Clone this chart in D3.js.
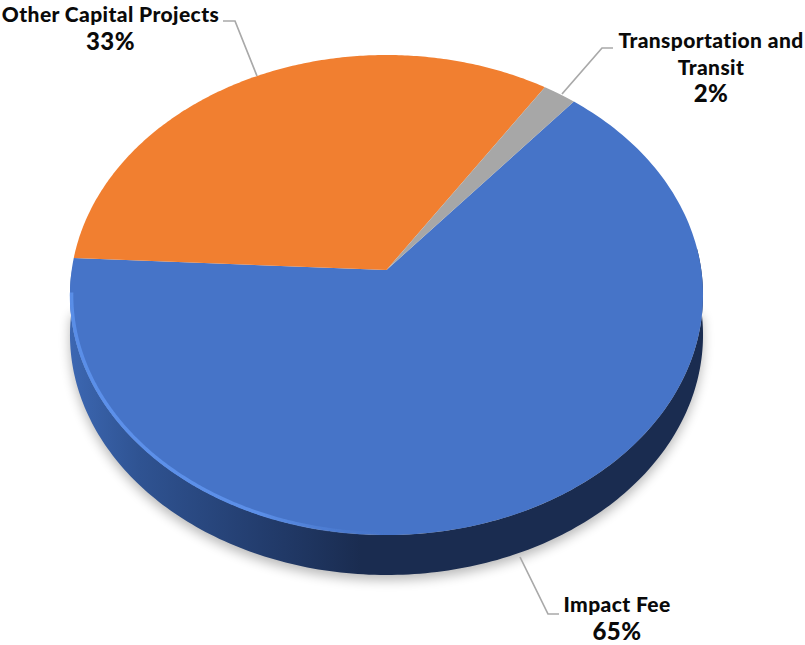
<!DOCTYPE html>
<html><head><meta charset="utf-8">
<script src="https://cdn.jsdelivr.net/npm/d3@7"></script>
<style>html,body{margin:0;background:#fff}svg{display:block}
text{font-family:Lato,sans-serif;font-weight:900;fill:#0a0a0a}</style></head>
<body><svg id="c" width="805" height="645"></svg>
<script>
const categories = ["Impact Fee","Other Capital Projects","Transportation and Transit"];
const values = [64.7,33.4,1.9];
const colors = ["#4674c8","#f17f30","#a7a7a7"];
const labelLines = [["Impact Fee"],["Other Capital Projects"],["Transportation and","Transit"]];
const labelPos = [[617,612],[110.5,22],[711,48]];
const lineGaps = [28,28,26.5];
const leaderLines = [[[520,557],[548,614],[559,614]],[[257,76],[235,21],[223,21]],[[562,94],[602,48],[613,48]]];

const cx=386.5,cy=270,a=314.8,s=237.4,k=-0.1042,depth=40;
const startDeg=40;
const project=(t)=>{const u=Math.sin(t),v=-Math.cos(t),d=1+k*v;return [cx+a*u/d,cy+s*v/d];};
const pie=d3.pie().sort(null).startAngle(startDeg*Math.PI/180).endAngle((startDeg+360)*Math.PI/180)(values);
const svg=d3.select("#c"),defs=svg.append("defs");
const line=d3.line();
const arcPts=(t0,t1)=>d3.range(0,201).map(i=>project(t0+(t1-t0)*i/200));

const blur=defs.append("filter").attr("id","sh").attr("x","-10%").attr("y","-10%").attr("width","120%").attr("height","125%");
blur.append("feGaussianBlur").attr("stdDeviation",6);
const soft=defs.append("filter").attr("id","soft").attr("x","-5%").attr("y","-5%").attr("width","110%").attr("height","110%");
soft.append("feGaussianBlur").attr("stdDeviation",0.6);
const g1=defs.append("linearGradient").attr("id","side").attr("gradientUnits","userSpaceOnUse")
 .attr("x1",70).attr("x2",703).attr("y1",0).attr("y2",0);
[[0,"#3c67b2"],[0.11,"#2f5392"],[0.3,"#233d6e"],[0.46,"#1a2c50"],[1,"#1a2c50"]]
 .forEach(([o,c])=>g1.append("stop").attr("offset",o).attr("stop-color",c));
const g2=defs.append("linearGradient").attr("id","rim").attr("gradientUnits","userSpaceOnUse")
 .attr("x1",70).attr("x2",385).attr("y1",0).attr("y2",0);
[[0,"#5b90ea",0.9],[0.1,"#5b90ea",1],[0.6,"#5b8fe8",1],[1,"#4f7fd6",0]]
 .forEach(([o,c,p])=>g2.append("stop").attr("offset",o).attr("stop-color",c).attr("stop-opacity",p));

// extruded outline: lower half of the rim shifted down by depth
const lowerPts=arcPts(Math.PI*0.47,Math.PI*1.5);
const sidePts=lowerPts.concat(lowerPts.map(p=>[p[0],p[1]+depth]).reverse());
const shadowPts=arcPts(Math.PI*0.5,Math.PI*1.5).map(p=>[p[0],p[1]+depth+5]);
svg.append("path").attr("d",line(shadowPts)+"Z").attr("fill","#000").attr("opacity",0.28).attr("filter","url(#sh)");
svg.append("path").attr("d",line(sidePts)+"Z").attr("fill","url(#side)");

svg.selectAll("path.slice").data(pie).join("path").attr("class","slice")
 .attr("d",d=>line([[cx,cy]].concat(arcPts(d.startAngle,d.endAngle)))+"Z")
 .attr("fill",(d,i)=>colors[i]);

// bevel highlight along the front edge, just inside the face
const inset=arcPts(Math.PI*1.0,Math.PI*1.47).map(p=>[cx+(p[0]-cx)*0.995,cy+(p[1]-cy)*0.995]);
svg.append("path").attr("d",line(inset))
 .attr("fill","none").attr("stroke","url(#rim)").attr("stroke-width",3.5).attr("filter","url(#soft)");

svg.selectAll("path.lead").data(leaderLines).join("path").attr("class","lead")
 .attr("d",d=>line(d)).attr("fill","none").attr("stroke","#a9a9a9").attr("stroke-width",1.7);

const fmt=d3.format(".0f");
categories.forEach((c,i)=>{
  const t=svg.append("text").attr("text-anchor","middle").attr("font-size",21).attr("letter-spacing",0.4);
  const [x,y]=labelPos[i];
  labelLines[i].forEach((l,j)=>t.append("tspan").attr("x",x).attr("y",y+j*lineGaps[i]).text(l));
  t.append("tspan").attr("x",x).attr("y",y+labelLines[i].length*lineGaps[i]+(i===2?1:0)).attr("font-size",24).text(fmt(values[i])+"%");
});
</script></body></html>
